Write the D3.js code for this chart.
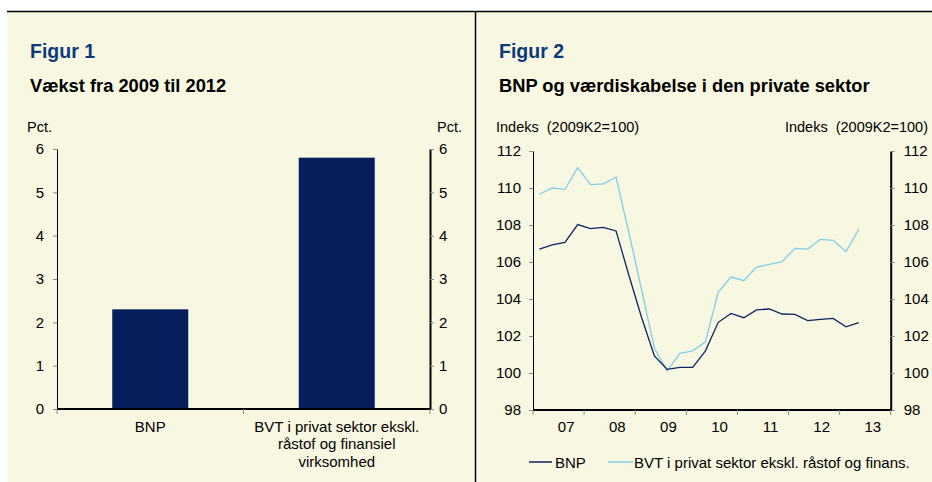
<!DOCTYPE html>
<html>
<head>
<meta charset="utf-8">
<script src="https://cdn.jsdelivr.net/npm/d3@7"></script>
<style>
  html, body { margin: 0; padding: 0; background: #ffffff; }
  svg text { font-family: "Liberation Sans", Arial, sans-serif; }
</style>
</head>
<body>
<svg id="chart" width="932" height="482"></svg>
<script>
// ---------- Figur 1 data ----------
const barCategories = ["BNP", "BVT i privat sektor ekskl. råstof og finansiel virksomhed"];
const barLabelLines = [["BNP"], ["BVT i privat sektor ekskl.", "råstof og finansiel", "virksomhed"]];
const barValues = [2.3, 5.8];
const barTicks = [0, 1, 2, 3, 4, 5, 6];

// ---------- Figur 2 data ----------
const quarters = [
  "2007K1","2007K2","2007K3","2007K4","2008K1","2008K2","2008K3","2008K4",
  "2009K1","2009K2","2009K3","2009K4","2010K1","2010K2","2010K3","2010K4",
  "2011K1","2011K2","2011K3","2011K4","2012K1","2012K2","2012K3","2012K4",
  "2013K1","2013K2","2013K3","2013K4"
];
const bnpValues = [106.70, 106.92, 107.06, 108.02, 107.80, 107.87, 107.68, 105.3,
  103.0, 100.92, 100.2, 100.3, 100.3, 101.2, 102.74, 103.22,
  102.99, 103.41, 103.46, 103.19, 103.17, 102.83, 102.9, 102.95,
  102.5, 102.72];
const bvtValues = [109.66, 110.0, 109.93, 111.1, 110.18, 110.22, 110.58, 107.6,
  104.5, 101.35, 100.12, 101.06, 101.2, 101.69, 104.36, 105.2,
  104.99, 105.73, 105.87, 106.02, 106.74, 106.70, 107.22, 107.17,
  106.56, 107.77];
const lineTicks = [98, 100, 102, 104, 106, 108, 110, 112];
const yearLabels = ["07", "08", "09", "10", "11", "12", "13"];
const seriesNames = ["BNP", "BVT i privat sektor ekskl. råstof og finans."];

// ---------- styles ----------
const beige = "#f8f7e1";
const navy = "#061f5c";
const lineNavy = "#0d2465";
const lightBlue = "#7fcfe9";
const titleBlue = "#0b3a7d";
const tickGray = "#8a8a8a";

const svg = d3.select("#chart");

// panel backgrounds and borders
svg.append("rect").attr("x", 7).attr("y", 11).attr("width", 925).attr("height", 471).attr("fill", beige);
svg.append("line").attr("x1", 7).attr("x2", 932).attr("y1", 11.5).attr("y2", 11.5)
  .attr("stroke", "#000").attr("stroke-width", 1.5);
svg.append("line").attr("x1", 475.5).attr("x2", 475.5).attr("y1", 11).attr("y2", 482)
  .attr("stroke", "#000").attr("stroke-width", 1.5);

function titles(x, fig, title) {
  svg.append("text").attr("x", x).attr("y", 58).attr("font-size", 19.5)
    .attr("font-weight", "bold").attr("fill", titleBlue).text(fig);
  svg.append("text").attr("x", x).attr("y", 92).attr("font-size", 18.3)
    .attr("font-weight", "bold").attr("fill", "#000").text(title);
}
titles(30, "Figur 1", "Vækst fra 2009 til 2012");
titles(499, "Figur 2", "BNP og værdiskabelse i den private sektor");

function styleAxis(g, width) {
  g.select(".domain").attr("stroke", "#000").attr("stroke-width", width);
  g.selectAll(".tick line").attr("stroke", tickGray);
  g.selectAll(".tick text").attr("font-size", 15).attr("fill", "#000")
    .attr("font-family", "Liberation Sans, Arial, sans-serif");
}

const fmt = d3.format("d");

// ================= Figur 1 =================
{
  const x0 = 57, x1 = 430, yTop = 149, yBot = 409;
  const x = d3.scaleBand().domain(barCategories).range([x0, x1]).paddingInner(0).paddingOuter(0);
  const y = d3.scaleLinear().domain([0, 6]).range([yBot, yTop]);

  const bw = 76;
  svg.append("g").selectAll("rect").data(barValues).join("rect")
    .attr("x", (d, i) => x(barCategories[i]) + x.bandwidth() / 2 - bw / 2)
    .attr("y", d => y(d))
    .attr("width", bw)
    .attr("height", d => yBot - y(d))
    .attr("fill", navy);

  const left = svg.append("g").attr("transform", `translate(${x0},0)`)
    .call(d3.axisLeft(y).tickValues(barTicks).tickFormat(fmt).tickSize(4).tickPadding(9).tickSizeOuter(0));
  styleAxis(left, 1);
  const right = svg.append("g").attr("transform", `translate(${x1},0)`)
    .call(d3.axisRight(y).tickValues(barTicks).tickFormat(fmt).tickSize(4).tickPadding(2).tickSizeOuter(0));
  styleAxis(right, 2);
  right.selectAll(".tick text").attr("dx", 3);

  // bottom axis with boundary ticks
  const bottom = svg.append("g").attr("transform", `translate(0,${yBot})`);
  bottom.append("line").attr("x1", x0).attr("x2", x1 + 1).attr("y1", 0).attr("y2", 0)
    .attr("stroke", "#000").attr("stroke-width", 2);
  const bounds = barCategories.map(c => x(c)).concat([x1]);
  bottom.selectAll("line.tk").data(bounds).join("line").attr("class", "tk")
    .attr("x1", d => d).attr("x2", d => d).attr("y1", 0).attr("y2", 5)
    .attr("stroke", tickGray);
  barLabelLines.forEach((lines, i) => {
    const cx = x(barCategories[i]) + x.bandwidth() / 2;
    lines.forEach((ln, j) => {
      bottom.append("text").attr("x", cx).attr("y", 23 + j * 17.3).attr("text-anchor", "middle")
        .attr("font-size", 15).text(ln);
    });
  });

  svg.append("text").attr("x", 27).attr("y", 132).attr("font-size", 14.5).text("Pct.");
  svg.append("text").attr("x", 462).attr("y", 132).attr("font-size", 14.5)
    .attr("text-anchor", "end").text("Pct.");
}

// ================= Figur 2 =================
{
  const x0 = 533, x1 = 890.7, yTop = 151, yBot = 410;
  const x = d3.scaleBand().domain(quarters).range([x0, x1]).padding(0);
  const y = d3.scaleLinear().domain([98, 112]).range([yBot, yTop]);
  const cx = i => x(quarters[i]) + x.bandwidth() / 2;

  const left = svg.append("g").attr("transform", `translate(${x0},0)`)
    .call(d3.axisLeft(y).tickValues(lineTicks).tickFormat(fmt).tickSize(4).tickPadding(8).tickSizeOuter(0));
  styleAxis(left, 1);
  const right = svg.append("g").attr("transform", `translate(${x1},0)`)
    .call(d3.axisRight(y).tickValues(lineTicks).tickFormat(fmt).tickSize(4).tickPadding(9).tickSizeOuter(0));
  styleAxis(right, 2);

  const bottom = svg.append("g").attr("transform", `translate(0,${yBot})`);
  bottom.append("line").attr("x1", x0).attr("x2", x1 + 1).attr("y1", 0).attr("y2", 0)
    .attr("stroke", "#000").attr("stroke-width", 2);
  const yearStarts = yearLabels.map((_, k) => x(quarters[k * 4])).concat([x1]);
  bottom.selectAll("line.tk").data(yearStarts).join("line").attr("class", "tk")
    .attr("x1", d => d).attr("x2", d => d).attr("y1", 0).attr("y2", 5)
    .attr("stroke", tickGray);
  bottom.selectAll("text.yl").data(yearLabels).join("text").attr("class", "yl")
    .attr("x", (d, k) => x(quarters[k * 4]) + 2.6 * x.bandwidth())
    .attr("y", 22).attr("text-anchor", "middle").attr("font-size", 15).text(d => d);

  const line = d3.line().x((d, i) => cx(i)).y(d => y(d));
  svg.append("path").datum(bvtValues).attr("d", line).attr("fill", "none")
    .attr("stroke", lightBlue).attr("stroke-width", 1.3);
  svg.append("path").datum(bnpValues).attr("d", line).attr("fill", "none")
    .attr("stroke", lineNavy).attr("stroke-width", 1.3);

  svg.append("text").attr("x", 496).attr("y", 132).attr("font-size", 14.5)
    .text("Indeks\u00a0 (2009K2=100)");
  svg.append("text").attr("x", 928).attr("y", 132).attr("font-size", 14.5)
    .attr("text-anchor", "end").text("Indeks\u00a0 (2009K2=100)");

  // legend
  const ly = 462;
  const leg = [[529, 552, 555, lineNavy], [608, 633, 634, lightBlue]];
  leg.forEach((l, i) => {
    svg.append("line").attr("x1", l[0]).attr("x2", l[1]).attr("y1", ly).attr("y2", ly)
      .attr("stroke", l[3]).attr("stroke-width", 1.5);
    svg.append("text").attr("x", l[2]).attr("y", ly + 5.5).attr("font-size", 15).text(seriesNames[i]);
  });
}
</script>
</body>
</html>
